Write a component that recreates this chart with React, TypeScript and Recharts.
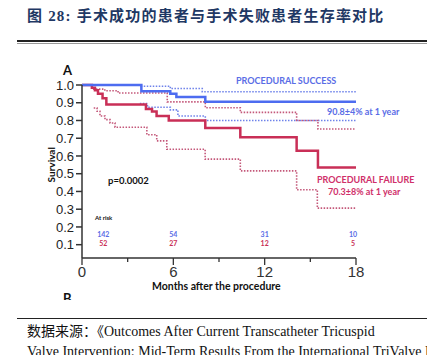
import React from "react";
import { LineChart, Line, XAxis, YAxis, ReferenceDot } from "recharts";

// Kaplan-Meier steps, months after procedure -> survival
const successT = [0, 3.9, 5.8, 6.2, 8.1, 18];
const successS = [1.0, 0.965, 0.95, 0.933, 0.906, 0.906];
const successUpT = [0, 3.9, 5.8, 7.9, 18];
const successUpS = [1.0, 0.993, 0.98, 0.962, 0.962];
const successLoT = [3.8, 4.3, 5.8, 6.3, 8.1, 18];
const successLoS = [0.895, 0.875, 0.86, 0.825, 0.8, 0.8];

const failureT = [0, 0.65, 0.85, 1.05, 1.35, 1.6, 4.2, 4.6, 4.9, 5.7, 8.1, 10.4, 14.1, 15.5, 18];
const failureS = [1.0, 0.985, 0.97, 0.95, 0.925, 0.89, 0.865, 0.85, 0.825, 0.8, 0.758, 0.706, 0.63, 0.535, 0.535];
const failureUpT = [0, 0.66, 1.5, 2.37, 5.6, 8.1, 10.4, 14.1, 15.5, 18];
const failureUpS = [1.0, 0.977, 0.968, 0.955, 0.905, 0.872, 0.846, 0.8, 0.752, 0.752];
const failureLoT = [0.77, 0.99, 1.18, 1.51, 1.84, 2.17, 4.26, 4.91, 5.57, 8.09, 10.4, 14.1, 15.46, 18];
const failureLoS = [0.87, 0.852, 0.825, 0.805, 0.786, 0.762, 0.72, 0.685, 0.638, 0.582, 0.516, 0.41, 0.306, 0.306];

const atRiskMonths = [1.4, 6, 12, 17.8];
const atRiskSuccess = [142, 54, 31, 10];
const atRiskFailure = [52, 27, 12, 5];

const xTicks = [0, 3, 6, 9, 12, 15, 18];
const yTicks = [0.1, 0.2, 0.3, 0.4, 0.5, 0.6, 0.7, 0.8, 0.9, 1.0];

const BLUE = "#4d6cf0";
const BLUE_DOT = "#6e82ea";
const RED = "#c92f57";
const RED_DOT = "#c4587a";

const pts = (t: number[], s: number[]) => t.map((m, i) => ({ m, s: s[i] }));

const XTick = (props: any) => {
  const { x, y, payload } = props;
  const major = payload.value % 6 === 0;
  return (
    <g>
      <line x1={x} x2={x} y1={y} y2={y + (major ? 7 : 4)} stroke="#333" strokeWidth={1.3} />
      {major && (
        <text x={x} y={y + 19} textAnchor="middle" fontSize={15} fill="#333" fontFamily="Liberation Sans, Arial, sans-serif">
          {payload.value}
        </text>
      )}
    </g>
  );
};

const abs = (left: number, top: number, extra: React.CSSProperties = {}): React.CSSProperties => ({
  position: "absolute",
  left,
  top,
  whiteSpace: "nowrap",
  lineHeight: 1.15,
  ...extra,
});

const sans = "Lato, 'Open Sans', sans-serif";
const serif = "'Liberation Serif', 'Noto Sans CJK SC', serif";

export default function App() {
  return (
    <div style={{ position: "fixed", left: 0, top: 0, width: 427, height: 355, background: "#fff", overflow: "hidden" }}>
      {/* title */}
      <div style={abs(27, 8, { fontFamily: serif, fontWeight: 700, fontSize: 15, letterSpacing: 1.2, color: "#1f3864" })}>
        图 28:&nbsp;手术成功的患者与手术失败患者生存率对比
      </div>
      <div style={abs(17, 40, { width: 410, height: 2, background: "#222" })} />
      <div style={abs(17, 43, { width: 410, height: 1, background: "#999" })} />

      <div style={{ position: "absolute", left: 0, top: 0 }}>
        <LineChart width={427} height={355} margin={{ top: 85, right: 71, bottom: 67, left: 42 }}>
          <XAxis
            dataKey="m"
            type="number"
            domain={[0, 18]}
            ticks={xTicks}
            interval={0}
            allowDuplicatedCategory={false}
            height={30}
            stroke="#333"
            strokeWidth={1.5}
            tickSize={0}
            tickMargin={0}
            tickLine={false}
            tick={<XTick />}
          />
          <YAxis
            type="number"
            domain={[0.025, 1.0]}
            ticks={yTicks}
            interval={0}
            width={40}
            stroke="#333"
            strokeWidth={1.5}
            tickSize={6}
            tick={{ fontSize: 13, fill: "#222", fontFamily: "Liberation Sans, Arial, sans-serif" }}
            tickFormatter={(v: number) => v.toFixed(1)}
          />
          <Line data={pts(successUpT, successUpS)} dataKey="s" type="stepAfter" stroke={BLUE_DOT} strokeWidth={1.6} strokeDasharray="1.5 1.5" dot={false} isAnimationActive={false} />
          <Line data={pts(successLoT, successLoS)} dataKey="s" type="stepAfter" stroke={BLUE_DOT} strokeWidth={1.6} strokeDasharray="1.5 1.5" dot={false} isAnimationActive={false} />
          <Line data={pts(failureUpT, failureUpS)} dataKey="s" type="stepAfter" stroke={RED_DOT} strokeWidth={1.6} strokeDasharray="1.5 1.5" dot={false} isAnimationActive={false} />
          <Line data={pts(failureLoT, failureLoS)} dataKey="s" type="stepAfter" stroke={RED_DOT} strokeWidth={1.6} strokeDasharray="1.5 1.5" dot={false} isAnimationActive={false} />
          <Line data={pts(failureT, failureS)} dataKey="s" type="stepAfter" stroke={RED} strokeWidth={2.5} dot={false} isAnimationActive={false} />
          <Line data={pts(successT, successS)} dataKey="s" type="stepAfter" stroke={BLUE} strokeWidth={2.5} dot={false} isAnimationActive={false} />
          {atRiskMonths.map((m, i) => (
            <ReferenceDot
              key={"s" + i}
              x={m}
              y={0.155}
              r={0}
              fill="none"
              stroke="none"
              label={{ value: atRiskSuccess[i], position: "center", fill: "#5a6de6", fontSize: 7, fontWeight: 700, fontFamily: sans }}
            />
          ))}
          {atRiskMonths.map((m, i) => (
            <ReferenceDot
              key={"f" + i}
              x={m}
              y={0.108}
              r={0}
              fill="none"
              stroke="none"
              label={{ value: atRiskFailure[i], position: "center", fill: RED, fontSize: 7, fontWeight: 700, fontFamily: sans }}
            />
          ))}
        </LineChart>
      </div>

      <div style={abs(63, 63, { fontFamily: sans, fontWeight: 700, fontSize: 13, color: "#111" })}>A</div>
      <div style={abs(63, 291, { height: 9, overflow: "hidden", fontFamily: sans, fontWeight: 700, fontSize: 13, color: "#111" })}>B</div>

      <div
        style={abs(30, 159, {
          width: 44,
          textAlign: "center",
          transform: "rotate(-90deg)",
          fontFamily: sans,
          fontWeight: 700,
          fontSize: 10,
          color: "#111",
        })}
      >
        Survival
      </div>

      <div style={abs(236, 76, { fontFamily: sans, fontWeight: 700, fontSize: 9, color: "#5a6de6" })}>PROCEDURAL SUCCESS</div>
      <div style={abs(327, 107, { fontFamily: sans, fontWeight: 700, fontSize: 9, color: "#5a6de6" })}>90.8±4% at 1 year</div>
      <div style={abs(317, 175, { fontFamily: sans, fontWeight: 700, fontSize: 9, color: "#d0306a" })}>PROCEDURAL FAILURE</div>
      <div style={abs(328, 187, { fontFamily: sans, fontWeight: 700, fontSize: 9, color: "#d0306a" })}>70.3±8% at 1 year</div>

      <div style={abs(108, 176, { fontFamily: sans, fontWeight: 700, fontSize: 9.5, color: "#111" })}>p=0.0002</div>
      <div style={abs(95, 215, { fontFamily: sans, fontWeight: 700, fontSize: 6, color: "#111" })}>At risk</div>

      <div style={abs(152, 280, { fontFamily: sans, fontWeight: 700, fontSize: 10.5, color: "#111" })}>Months after the procedure</div>

      <div style={abs(17, 318, { width: 410, height: 1, background: "#222" })} />
      <div style={abs(27, 324, { fontFamily: serif, fontSize: 14, color: "#111" })}>
        数据来源：《Outcomes After Current Transcatheter Tricuspid
      </div>
      <div style={abs(27, 344, { fontFamily: serif, fontSize: 14, color: "#111" })}>
        Valve Intervention: Mid-Term Results From the International TriValve Registry》
      </div>
    </div>
  );
}
